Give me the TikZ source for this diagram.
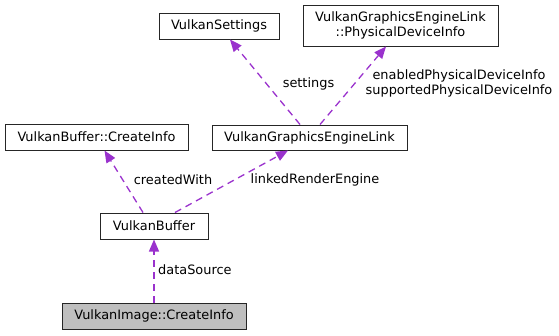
\documentclass[tikz,border=0pt]{standalone}
\usepackage{fontspec}
\setmainfont{DejaVu Sans}
\usepackage{xcolor}
\definecolor{edgePurple}{HTML}{9A32CD}
\definecolor{boxGray}{HTML}{BFBFBF}
\usepackage{tikz}
\usetikzlibrary{arrows.meta, positioning}

\begin{document}
\begin{tikzpicture}[x=1pt, y=-1pt]
\tikzset{
  classbox/.style={draw=black!85, line width=1pt, fill=white, inner sep=0pt,
    minimum height=26pt, font=\fontsize{12.9}{15}\selectfont},
  uses/.style={edgePurple, line width=1.3pt, dash pattern=on 7pt off 5pt,
    -{Triangle[length=12pt, width=10pt]}},
  lbl/.style={font=\fontsize{12.9}{15}\selectfont, inner sep=0pt},
}
  \useasboundingbox (0,0) rectangle (559,335);

  % Top row
  \node[classbox, minimum width=120pt] (settings) at (219,26) {VulkanSettings};
  \node[classbox, minimum width=195pt, minimum height=41pt, align=center] (physinfo) at (400.5,25.5)
    {VulkanGraphicsEngineLink\\::PhysicalDeviceInfo};

  % Middle row
  \node[classbox, minimum width=183pt] (bufinfo) at (96.5,137) {VulkanBuffer::CreateInfo};
  \node[classbox, minimum width=195pt, minimum height=25pt] (enginelink) at (309.5,137.5) {VulkanGraphicsEngineLink};

  % Buffer and the documented struct
  \node[classbox, minimum width=108pt] (buffer) at (154,226) {VulkanBuffer};
  \node[classbox, minimum width=184pt, fill=boxGray] (imginfo) at (154,316) {VulkanImage::CreateInfo};

  % Usage edges
  \draw[uses] (imginfo.north) -- (buffer.south);
  \node[lbl, anchor=west] (lblsource) at (158,270) {dataSource};

  \draw[uses] ([xshift=-11pt]buffer.north) -- ([xshift=8pt]bufinfo.south);
  \node[lbl] (lblcreated) at (173,180) {createdWith};

  \draw[uses] ([xshift=21pt]buffer.north) -- ([xshift=-21.5pt]enginelink.south);
  \node[lbl] (lblengine) at (315,180) {linkedRenderEngine};

  \draw[uses] ([xshift=-9.5pt]enginelink.north) -- ([xshift=11pt]settings.south);
  \node[lbl] (lblsettings) at (308.5,84) {settings};

  \draw[uses] ([xshift=10.5pt]enginelink.north) -- ([xshift=-14.5pt]physinfo.south);
  \node[lbl, align=center] (lblphys) at (459,83.5)
    {enabledPhysicalDeviceInfo\\supportedPhysicalDeviceInfo};
\end{tikzpicture}
\end{document}
